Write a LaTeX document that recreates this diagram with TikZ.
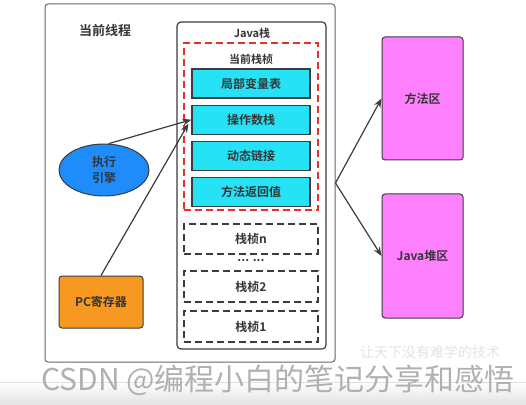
\documentclass[tikz,border=0pt]{standalone}
\usepackage{fontspec}
\setmainfont{Noto Sans CJK SC}[BoldFont={Noto Sans CJK SC Bold}]
\usepackage{xcolor}
\usetikzlibrary{shapes.geometric,arrows.meta,positioning,calc}
\definecolor{cellcyan}  {RGB}{38,226,246}
\definecolor{engineblue}{RGB}{30,140,250}
\definecolor{pcorange}  {RGB}{247,152,32}
\definecolor{areapink}  {RGB}{255,128,255}
\definecolor{framered}  {RGB}{232,48,40}
\definecolor{linegray}  {RGB}{60,60,60}

\begin{document}
\begin{tikzpicture}[
  x=1pt, y=1pt,
  font=\bfseries\fontsize{12}{14}\selectfont,
  >={Stealth[length=9pt,width=7pt]},
  every node/.style={align=center, text=linegray!90!black},
  cellbox/.style={rectangle, draw=linegray, fill=cellcyan,
    minimum width=118pt, minimum height=29pt, line width=1.2pt, inner sep=0pt},
  framebox/.style={rectangle, draw=linegray, dash pattern=on 7pt off 4pt,
    minimum width=134pt, minimum height=31pt, line width=1.2pt, inner sep=0pt},
  areabox/.style={rectangle, rounded corners=3pt, draw=linegray, fill=areapink,
    minimum width=81pt, minimum height=123pt, line width=1pt},
  arr/.style={->, line width=1.2pt, color=linegray},
]
\useasboundingbox (0,0) rectangle (526,404);

% Screenshot band
\shade[top color=white, bottom color=gray!22] (0,0) rectangle (526,22);
\draw[gray!25, line width=0.6pt] (0,22) -- (526,22);

% Current thread
\node[draw=gray!80!black, rounded corners=3pt, line width=1pt, fill=white,
      minimum width=290pt, minimum height=358pt] (thread) at (190,221) {};
\node[font=\bfseries\fontsize{13}{15}\selectfont] (threadlbl) at (105,373) {当前线程};

% Java stack
\node[draw=linegray, rounded corners=4pt, line width=1.2pt,
      minimum width=149pt, minimum height=327pt] (jstack) at (251.5,218.5) {};
\node[font=\bfseries\fontsize{11}{13}\selectfont] (jstacklbl) at (252,371) {Java栈};

% Current frame
\node[draw=framered, dash pattern=on 7pt off 4pt, line width=1.2pt,
      minimum width=134pt, minimum height=167pt] (curframe) at (251,277.5) {};
\node[font=\bfseries\fontsize{11}{13}\selectfont] (curframelbl) at (251,345) {当前栈桢};

\node[cellbox] (locals) at (251,320.5) {局部变量表};
\node[cellbox, below=6pt of locals]  (opstack) {操作数栈};
\node[cellbox, below=6pt of opstack] (dynlink) {动态链接};
\node[cellbox, below=6pt of dynlink] (retaddr) {方法返回值};

% Other frames
\node[framebox, minimum height=30pt] (framen) at (251,165) {栈桢n};
\node (dots) at (251,143) {... ...};
\node[framebox] (frame2) at (251,117.5) {栈桢2};
\node[framebox] (frame1) at (251,77.5) {栈桢1};

% Engine and PC register
\node[ellipse, draw=linegray, fill=engineblue, line width=1pt,
      minimum width=90pt, minimum height=52pt, inner sep=0pt] (engine) at (104,234)
  {执行\\[2pt]引擎};
\node[rectangle, rounded corners=3pt, draw=linegray, fill=pcorange, line width=1pt,
      minimum width=84pt, minimum height=52pt] (pcreg) at (101,102) {PC寄存器};

\coordinate (pcend) at ($(opstack.west)+(-3,-4)$);
\draw[arr] (engine.80) -- (opstack.west);
\draw[arr] (pcreg.north) -- (pcend);

% Shared areas
\node[areabox] (method) at (422.5,305.5) {方法区};
\node[areabox, minimum height=124pt] (heap) at (422.5,148) {Java堆区};

\draw[arr] (thread.east) -- (method.west);
\draw[arr] (thread.east) -- (heap.west);

% Watermarks
\node[inner sep=0pt, font=\mdseries\fontsize{14}{15}\selectfont, text=gray!22] (slogan)
  at (430,52) {让天下没有难学的技术};
\node[anchor=west, inner sep=0pt, font=\mdseries\fontsize{30}{31}\selectfont,
      text=gray!62] (csdn) at (41,24) {CSDN @编程小白的笔记分享和感悟};
\end{tikzpicture}
\end{document}
